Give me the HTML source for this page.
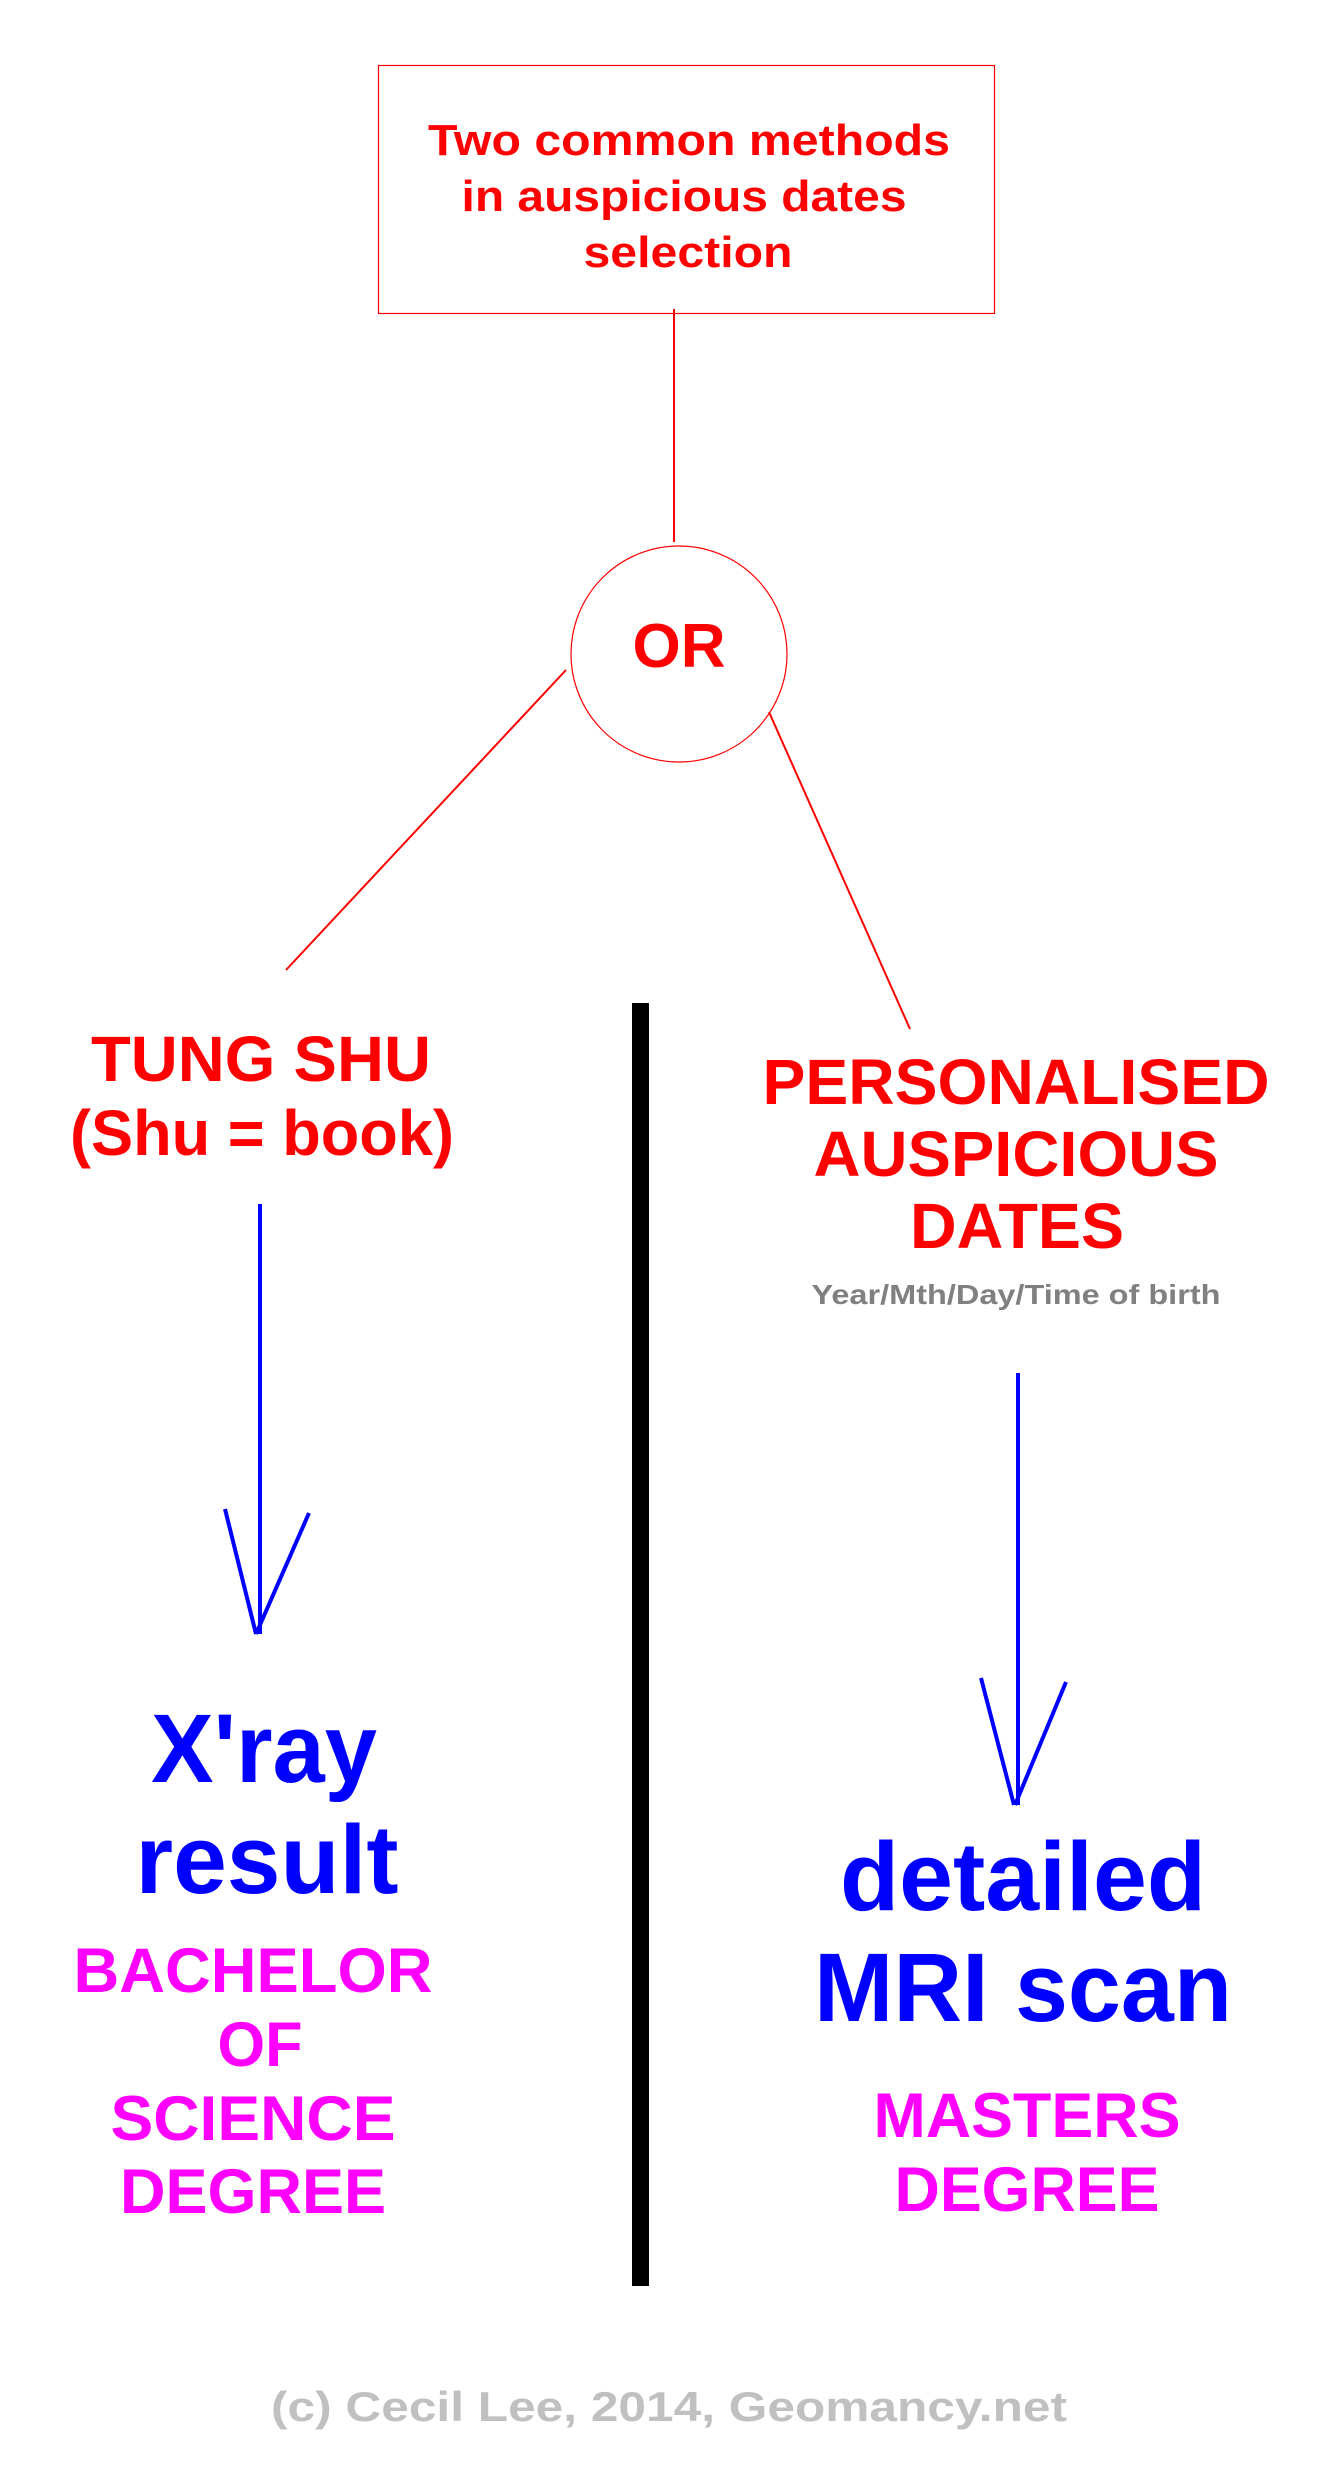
<!DOCTYPE html>
<html><head><meta charset="utf-8"><style>
html,body{margin:0;padding:0;background:#fff;}
svg{display:block;}
text{font-family:"Liberation Sans",Arial,sans-serif;font-weight:bold;text-anchor:middle;}
</style></head><body>
<svg width="1330" height="2492" viewBox="0 0 1330 2492" xmlns="http://www.w3.org/2000/svg">
<rect x="378.5" y="65.5" width="616" height="248" fill="none" stroke="#ff0000" stroke-width="1.2"/>
<g fill="#ff0000">
<text x="689" y="155" font-size="44" textLength="522" lengthAdjust="spacingAndGlyphs">Two common methods</text>
<text x="684" y="211" font-size="44" textLength="445" lengthAdjust="spacingAndGlyphs">in auspicious dates</text>
<text x="688" y="267" font-size="44" textLength="209" lengthAdjust="spacingAndGlyphs">selection</text>
</g>
<line x1="674" y1="309" x2="674" y2="542" stroke="#ff0000" stroke-width="2"/>
<circle cx="679" cy="654" r="108" fill="none" stroke="#ff0000" stroke-width="1.2"/>
<text x="679" y="667" font-size="62" fill="#ff0000" textLength="93" lengthAdjust="spacingAndGlyphs">OR</text>
<line x1="566" y1="670" x2="286" y2="970" stroke="#ff0000" stroke-width="2"/>
<line x1="769" y1="712" x2="910" y2="1029" stroke="#ff0000" stroke-width="2"/>
<rect x="632" y="1003" width="17" height="1283" fill="#000"/>
<g fill="#ff0000" font-size="64">
<text x="261" y="1081" textLength="340" lengthAdjust="spacingAndGlyphs">TUNG SHU</text>
<text x="262" y="1155" textLength="384" lengthAdjust="spacingAndGlyphs">(Shu = book)</text>
<text x="1016" y="1104" textLength="507" lengthAdjust="spacingAndGlyphs">PERSONALISED</text>
<text x="1016" y="1176" textLength="405" lengthAdjust="spacingAndGlyphs">AUSPICIOUS</text>
<text x="1017" y="1248" textLength="214" lengthAdjust="spacingAndGlyphs">DATES</text>
</g>
<text x="1016" y="1304" font-size="28" fill="#808080" textLength="409" lengthAdjust="spacingAndGlyphs">Year/Mth/Day/Time of birth</text>
<g stroke="#0000ff" stroke-width="4" fill="none">
<line x1="260" y1="1204" x2="260" y2="1634"/>
<line x1="225" y1="1509" x2="256" y2="1634"/>
<line x1="309" y1="1513" x2="256" y2="1634"/>
<line x1="1018" y1="1373" x2="1018" y2="1805"/>
<line x1="981" y1="1678" x2="1014" y2="1805"/>
<line x1="1066" y1="1682" x2="1015" y2="1805"/>
</g>
<g fill="#0000ff" font-size="97">
<text x="264" y="1782" textLength="226" lengthAdjust="spacingAndGlyphs">X'ray</text>
<text x="267" y="1893" textLength="263" lengthAdjust="spacingAndGlyphs">result</text>
<text x="1023" y="1910" textLength="366" lengthAdjust="spacingAndGlyphs">detailed</text>
<text x="1023" y="2021" textLength="418" lengthAdjust="spacingAndGlyphs">MRI scan</text>
</g>
<g fill="#ff00ff" font-size="63">
<text x="253" y="1992" textLength="359" lengthAdjust="spacingAndGlyphs">BACHELOR</text>
<text x="260" y="2066" textLength="85" lengthAdjust="spacingAndGlyphs">OF</text>
<text x="253" y="2140" textLength="285" lengthAdjust="spacingAndGlyphs">SCIENCE</text>
<text x="253" y="2213" textLength="266" lengthAdjust="spacingAndGlyphs">DEGREE</text>
<text x="1027" y="2137" textLength="307" lengthAdjust="spacingAndGlyphs">MASTERS</text>
<text x="1027" y="2211" textLength="265" lengthAdjust="spacingAndGlyphs">DEGREE</text>
</g>
<text x="669" y="2421" font-size="42" fill="#c0c0c0" textLength="796" lengthAdjust="spacingAndGlyphs">(c) Cecil Lee, 2014, Geomancy.net</text>
</svg>
</body></html>
